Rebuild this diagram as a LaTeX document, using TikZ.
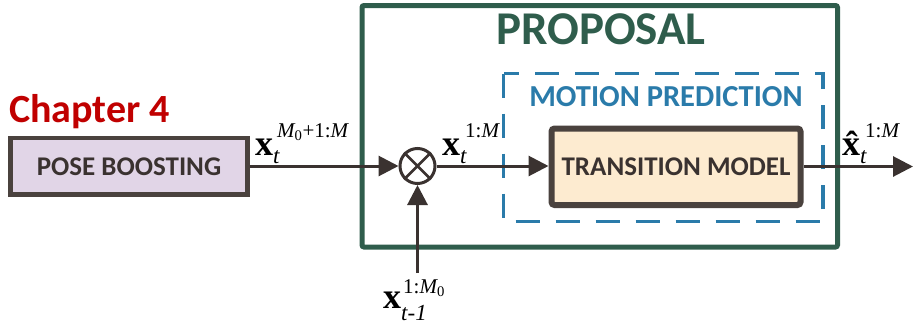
\documentclass[tikz,border=0pt]{standalone}
\usepackage{fontspec}
\setmainfont{Carlito}
\newfontfamily\tms{Liberation Serif}
\usetikzlibrary{arrows.meta}
\definecolor{propgreen}{HTML}{2F5D4C}
\definecolor{dashblue}{HTML}{2A7BAA}
\definecolor{boxdark}{HTML}{4A423E}
\definecolor{tmfill}{HTML}{FDEBD0}
\definecolor{pbfill}{HTML}{E1D5E7}
\definecolor{chapred}{HTML}{C00000}
\definecolor{ink}{HTML}{3A3230}
\newcommand{\bigx}[1]{{\fontsize{36}{36}\selectfont\bfseries #1}}
\newcommand{\supf}{\fontsize{21}{21}\selectfont}
\newcommand{\subf}{\fontsize{23}{23}\selectfont\itshape}
\tikzset{
  conn/.style={draw=ink, line width=3pt, -{Triangle[length=20pt,width=20pt]}},
  lab/.style={anchor=base west, inner sep=0pt, text=black, font=\tms},
  heading/.style={inner sep=0pt, font=\bfseries},
}
\begin{document}
\begin{tikzpicture}[x=1pt,y=-1pt]
\useasboundingbox (0,0) rectangle (913,327);
% proposal box
\draw[propgreen, line width=5pt, rounded corners=2pt] (362,5.5) rectangle (837.5,247);
\node[heading, text=propgreen, font=\fontsize{47}{47}\selectfont\bfseries] (proptext) at (601,29) {PROPOSAL};
% motion prediction dashed box
\draw[dashblue, line width=3.5pt, dash pattern=on 24pt off 16pt] (503.5,73.5) rectangle (823,221.5);
\node[heading, text=dashblue, font=\fontsize{30.5}{30.5}\selectfont\bfseries] (mptext) at (666,97) {MOTION PREDICTION};
% transition model
\node[draw=boxdark, fill=tmfill, line width=6pt, rounded corners=3pt, minimum width=249pt, minimum height=76.5pt, inner sep=0pt,
  text=ink, font=\fontsize{27}{27}\selectfont\bfseries] (tm) at (676,166.75) {TRANSITION MODEL};
% pose boosting
\node[draw=boxdark, fill=pbfill, line width=4.5pt, minimum width=237pt, minimum height=56.5pt, inner sep=0pt,
  text=ink, font=\fontsize{27}{27}\selectfont\bfseries] (pb) at (129,166.25) {POSE BOOSTING};
\node[heading, text=chapred, anchor=west, font=\fontsize{40}{40}\selectfont\bfseries] (chap) at (9,112) {Chapter 4};
% multiplier
\node[draw=ink, line width=3pt, circle, minimum size=35pt, inner sep=0pt] (mul) at (417.5,166) {};
\draw[ink, line width=2.5pt] (mul.north west) -- (mul.south east) (mul.north east) -- (mul.south west);
\coordinate (bottomin) at (417.5,273);
\coordinate (outend) at (913,166.5);
\draw[conn] (pb.east |- mul) -- (mul.west);
\draw[conn] (bottomin) -- (mul.south);
\draw[conn] (mul.east) -- (tm.west |- mul);
\draw[conn] (tm.east |- outend) -- (outend);
% labels
\node[lab] (l1) at (255,155) {\bigx{x}\makebox[0pt][l]{\raisebox{-8pt}{\subf t}}\hspace{4pt}\raisebox{18pt}{\supf\itshape M\textsubscript{\upshape 0}\upshape+1:\itshape M}};
\node[lab] (l2) at (442,155) {\bigx{x}\makebox[0pt][l]{\raisebox{-8pt}{\subf t}}\hspace{5pt}\raisebox{18pt}{\supf 1:\itshape M}};
\node[lab] (l3) at (842,155) {\bigx{\^x}\makebox[0pt][l]{\raisebox{-8pt}{\subf t}}\hspace{5pt}\raisebox{18pt}{\supf 1:\itshape M}};
\node[lab] (l4) at (383,308) {\bigx{x}\makebox[0pt][l]{\raisebox{-12pt}{\subf t-1}}\hspace{2pt}\raisebox{15pt}{\supf 1:\itshape M\textsubscript{\upshape 0}}};
\end{tikzpicture}
\end{document}
